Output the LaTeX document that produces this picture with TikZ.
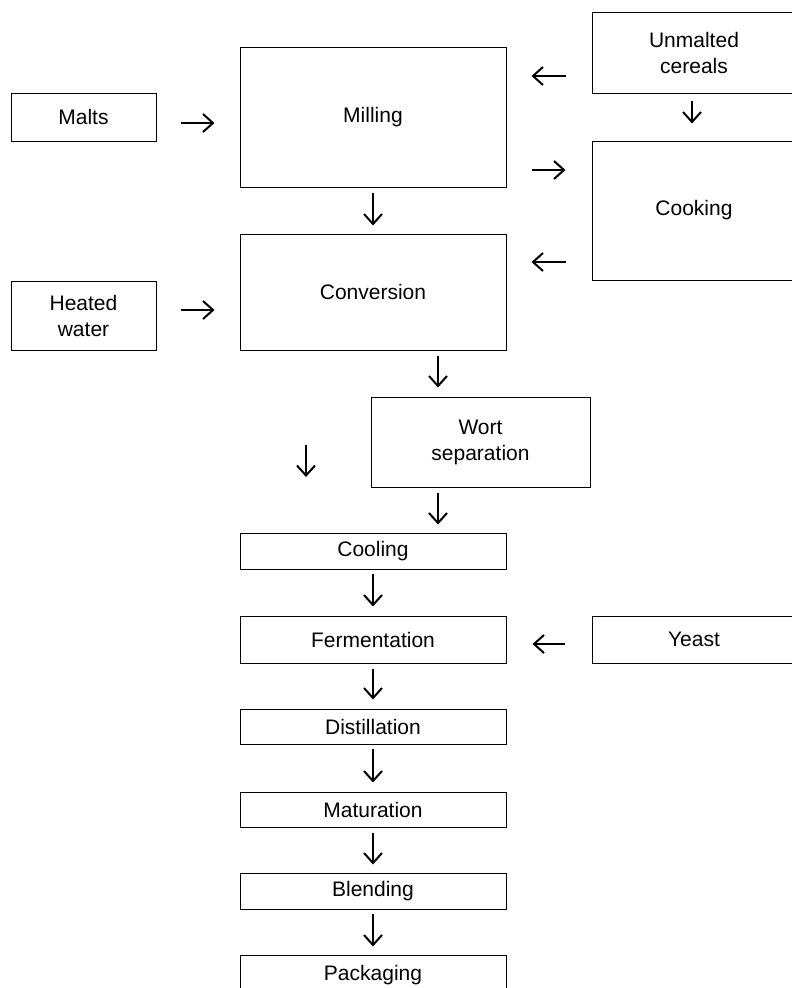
\documentclass[tikz,border=0pt]{standalone}
\usepackage{fontspec}
\setmainfont{Liberation Sans}
\usepackage{tikz}
\usetikzlibrary{arrows.meta}
\tikzset{>={Straight Barb[length=10pt, width=18pt, line width=2pt]}}

\begin{document}
\begin{tikzpicture}[x=1pt, y=-1pt,
  box/.style={draw, line width=1pt, inner sep=0pt, align=center, font=\fontsize{21}{26}\selectfont},
  arr/.style={->, line width=1.8pt}]
  \useasboundingbox (0,0) rectangle (792,988);
  \clip (0,0) rectangle (792,988);

  % inputs on the left
  \node[box, minimum width=145pt, minimum height=48pt] (malts) at (83.5,117) {Malts};
  \node[box, minimum width=145pt, minimum height=69pt] (water) at (83.5,315.5) {Heated\\water};

  % mashing
  \node[box, minimum width=266pt, minimum height=140pt] (milling) at (373,117) {Milling};
  \node[box, minimum width=266pt, minimum height=116pt] (conversion) at (373,292) {Conversion};

  % cereal side
  \node[box, minimum width=204pt, minimum height=81pt] (cereals) at (694,52.5) {Unmalted\\cereals};
  \node[box, minimum width=204pt, minimum height=139pt] (cooking) at (694,210.5) {Cooking};

  \node[box, minimum width=219pt, minimum height=90pt] (wort) at (480.5,442) {Wort\\separation};

  % main line
  \node[box, minimum width=266pt, minimum height=36pt] (cooling) at (373,551) {Cooling};
  \node[box, minimum width=266pt, minimum height=47pt] (ferment) at (373,639.5) {Fermentation};
  \node[box, minimum width=204pt, minimum height=47pt] (yeast) at (694,639.5) {Yeast};
  \node[box, minimum width=266pt, minimum height=35pt] (distill) at (373,726.5) {Distillation};
  \node[box, minimum width=266pt, minimum height=35pt] (mature) at (373,809.5) {Maturation};
  \node[box, minimum width=266pt, minimum height=36pt] (blend) at (373,891) {Blending};
  \node[box, minimum width=266pt, minimum height=40pt] (package) at (373,975) {Packaging};

  \coordinate (sideA) at (306,445);
  \coordinate (sideB) at (306,477);

  % arrows
  \draw[arr, shorten <=24pt, shorten >=25pt] ([yshift=-6pt]malts.east) -- ([yshift=-6pt]milling.west);
  \draw[arr, shorten <=24pt, shorten >=25pt] ([yshift=5.5pt]water.east) -- ([yshift=-18pt]conversion.west);
  \draw[arr, shorten <=5pt, shorten >=8pt] (milling) -- (conversion);
  \draw[arr, shorten <=26pt, shorten >=25pt] ([yshift=-23.5pt]cereals.west) -- ([yshift=41pt]milling.east);
  \draw[arr, shorten <=7pt, shorten >=17pt] ([xshift=-2pt]cereals.south) -- ([xshift=-2pt]cooking.north);
  \draw[arr, shorten <=25pt, shorten >=26pt] ([yshift=-53pt]milling.east) -- ([yshift=40.5pt]cooking.west);
  \draw[arr, shorten <=26pt, shorten >=25pt] ([yshift=-51.5pt]cooking.west) -- ([yshift=30pt]conversion.east);
  \draw[arr, shorten <=5pt, shorten >=9pt] ([xshift=65pt]conversion.south) -- ([xshift=-42.5pt]wort.north);
  \draw[arr] (sideA) -- (sideB);
  \draw[arr, shorten <=5pt, shorten >=8pt] ([xshift=-42.5pt]wort.south) -- ([xshift=65pt]cooling.north);
  \draw[arr, shorten <=4pt, shorten >=9pt] (cooling) -- (ferment);
  \draw[arr, shorten <=27pt, shorten >=26pt] ([yshift=-4.5pt]yeast.west) -- ([yshift=-4.5pt]ferment.east);
  \draw[arr, shorten <=5pt, shorten >=9pt] (ferment) -- (distill);
  \draw[arr, shorten <=4pt, shorten >=9pt] (distill) -- (mature);
  \draw[arr, shorten <=5pt, shorten >=8pt] (mature) -- (blend);
  \draw[arr, shorten <=4pt, shorten >=8pt] (blend) -- (package);
\end{tikzpicture}
\end{document}
